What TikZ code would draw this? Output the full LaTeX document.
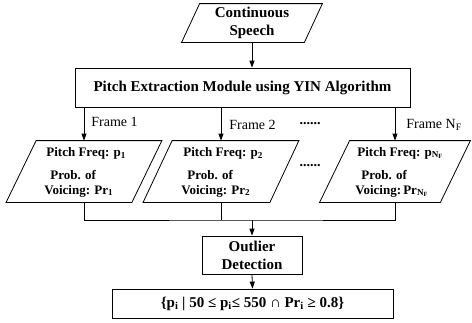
\documentclass[tikz,border=0pt]{standalone}
\usepackage{fontspec}
\setmainfont{Liberation Serif}
\usetikzlibrary{arrows.meta}
\newcommand\paradraw[2]{\draw ([xshift=#2]#1.north west) -- (#1.north east) -- ([xshift=-#2]#1.south east) -- (#1.south west) -- cycle;}
\begin{document}
\begin{tikzpicture}[x=1pt,y=-1pt,line width=0.8pt,
  bigtxt/.style={font=\fontsize{15}{18}\selectfont\bfseries},
  paratxt/.style={font=\fontsize{13}{15}\selectfont\bfseries,anchor=west,inner sep=0pt},
  lbl/.style={font=\fontsize{14}{16}\selectfont,anchor=west,inner sep=0pt},
  dotstxt/.style={font=\fontsize{14}{16}\selectfont\bfseries,inner sep=0pt},
  parabox/.style={rectangle,inner sep=0pt},
  plainbox/.style={draw,rectangle,inner sep=0pt},
  arr/.style={-{Triangle[length=7pt,width=5pt]}}]
\useasboundingbox (0,0) rectangle (472,322);
% top
\node[parabox,bigtxt,align=center,minimum width=140pt,minimum height=38pt] (speech) at (252,23) {Continuous\\Speech};
\paradraw{speech}{18pt}
\node[plainbox,bigtxt,minimum width=335pt,minimum height=39pt] (pitch) at (242.5,87.5) {Pitch Extraction Module using YIN Algorithm};
\draw[arr] (speech.south) -- (pitch.north -| speech.south);
% parallelograms
\node[parabox,minimum width=155pt,minimum height=61pt] (p1) at (84,171.5) {};
\node[parabox,minimum width=155pt,minimum height=61pt] (p2) at (221,171.5) {};
\node[parabox,minimum width=150pt,minimum height=61pt] (p3) at (395,171.5) {};
\paradraw{p1}{30pt}
\paradraw{p2}{29pt}
\paradraw{p3}{30pt}
\node[paratxt] (p1a) at (46,153) {Pitch Freq: p\textsubscript{1}};
\node[paratxt] (p1b) at (50,175) {Prob. of};
\node[paratxt] (p1c) at (44,191) {Voicing: Pr\textsubscript{1}};
\node[paratxt] (p2a) at (183,153) {Pitch Freq: p\textsubscript{2}};
\node[paratxt] (p2b) at (187,175) {Prob. of};
\node[paratxt] (p2c) at (181,191) {Voicing: Pr\textsubscript{2}};
\node[paratxt] (p3a) at (357,153) {Pitch Freq: p\textsubscript{N\textsubscript{F}}};
\node[paratxt] (p3b) at (361,175) {Prob. of};
\node[paratxt] (p3c) at (355,191) {Voicing:\,Pr\textsubscript{N\textsubscript{F}}};
% frame arrows
\draw[arr] (pitch.south -| p1.north) -- (p1.north);
\draw[arr] (pitch.south -| p2.north) -- (p2.north);
\draw[arr] (pitch.south -| p3.north) -- (p3.north);
\node[lbl] (f1) at (91,122) {Frame 1};
\node[lbl] (f2) at (229,125) {Frame 2};
\node[dotstxt] (d1) at (310,124) {......};
\node[lbl] (f3) at (406,125) {Frame N\textsubscript{F}};
\node[dotstxt] (d2) at (310,166) {......};
% bottom
\node[plainbox,bigtxt,align=center,minimum width=100pt,minimum height=38pt] (out) at (252,255) {Outlier\\Detection};
\node[plainbox,bigtxt,minimum width=281pt,minimum height=29pt] (final) at (252.5,303.5) {\{p\textsubscript{i} | 50 ≤ p\textsubscript{i}≤ 550 ∩ Pr\textsubscript{i} ≥ 0.8\}};
\coordinate (bus) at (252,220);
\draw (p1.south) |- (bus) -| (p3.south);
\draw (p2.south) -- (p2.south |- bus);
\draw[arr] (bus) -- (out.north);
\draw[arr] (out.south) -- (final.north);
\end{tikzpicture}
\end{document}
